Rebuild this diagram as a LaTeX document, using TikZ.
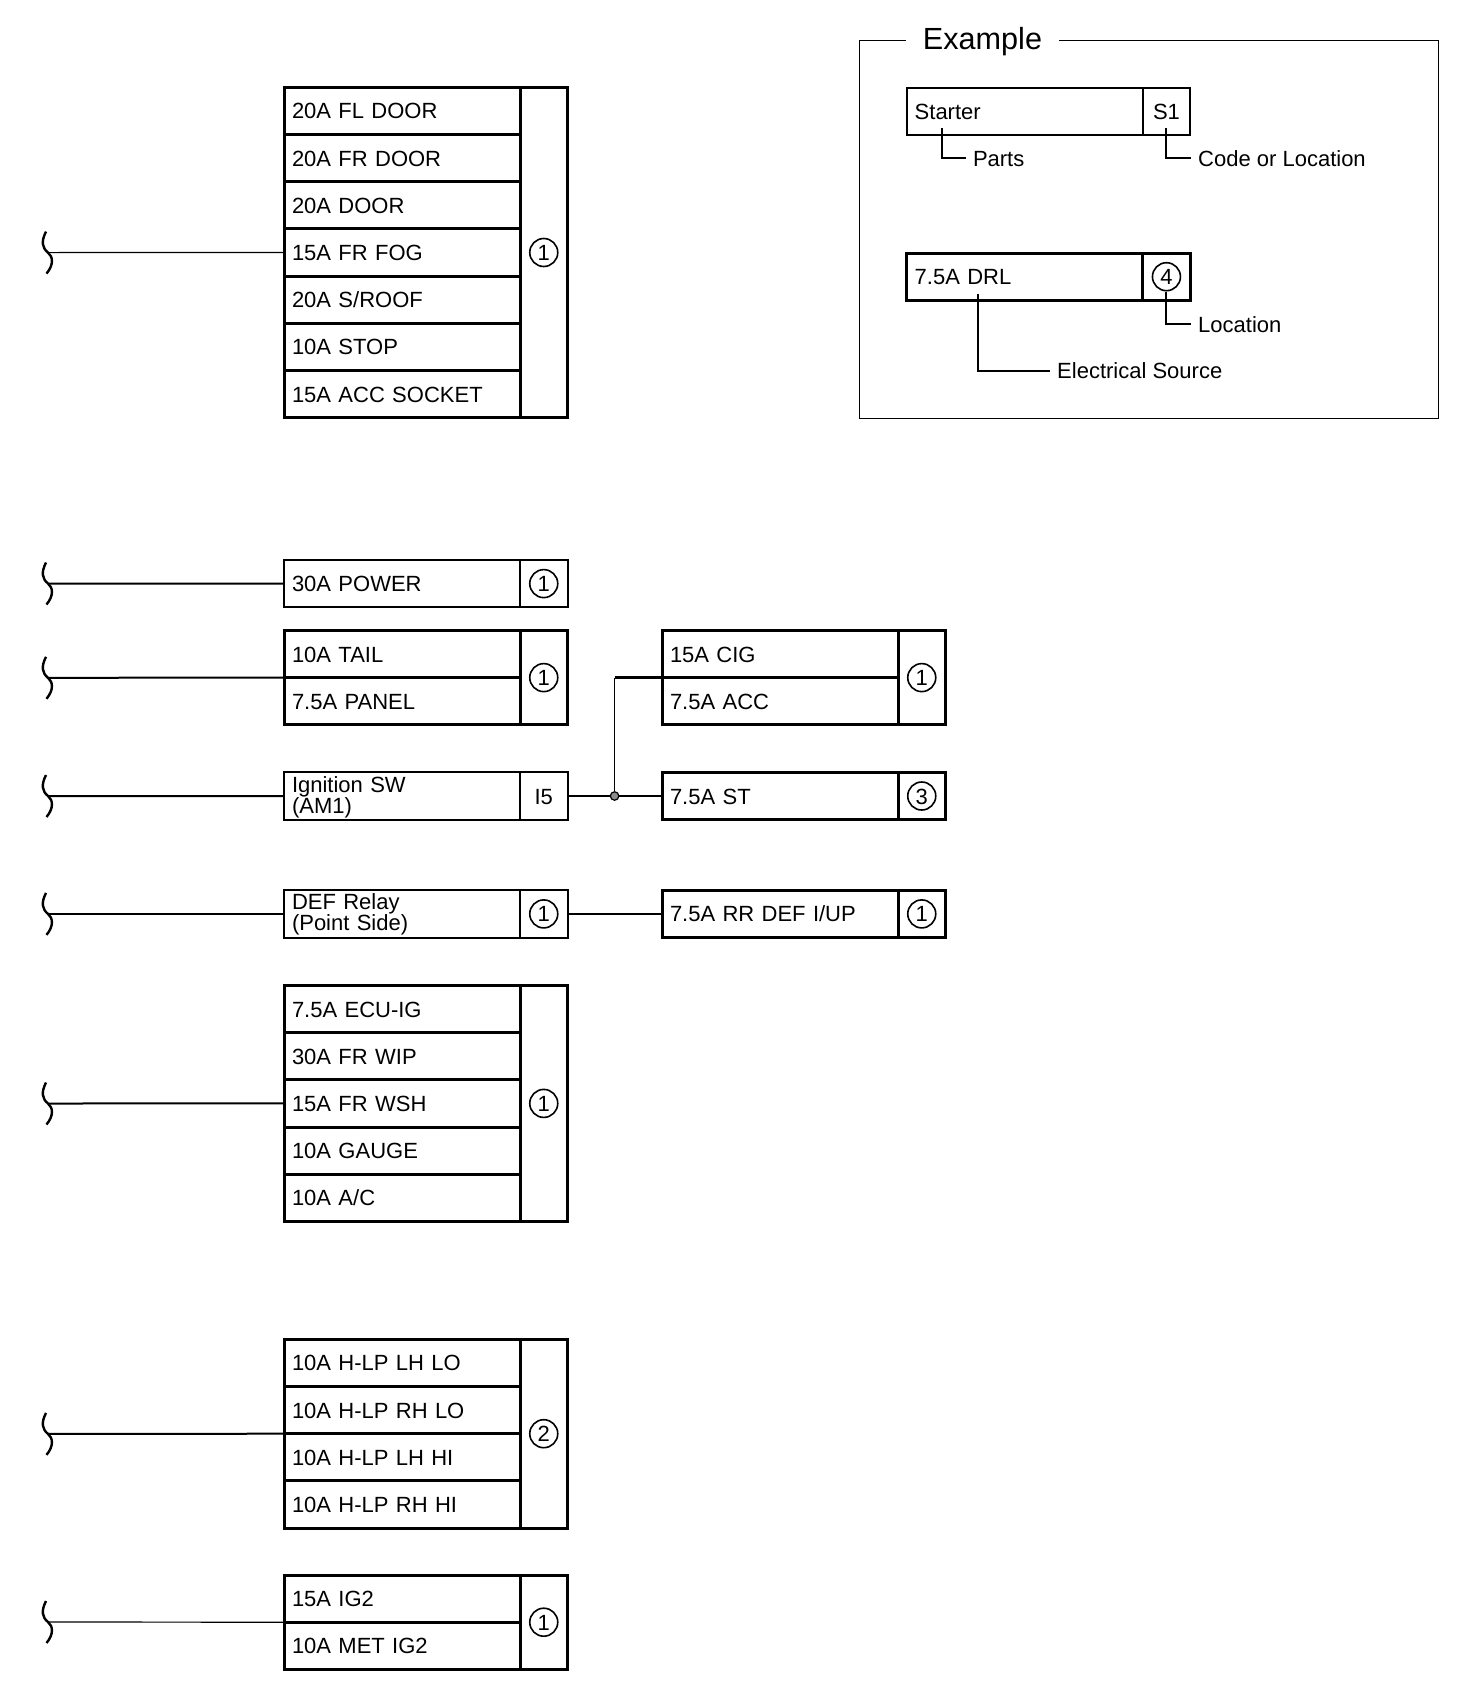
\documentclass[tikz,border=0pt]{standalone}
\usepackage{fontspec}
\setmainfont{Liberation Sans}
\usepackage{tikz}
\usetikzlibrary{positioning}
\tikzset{
 labelfont/.style={font=\fontsize{22}{21}\selectfont},
 fusetext/.style={labelfont,draw,outer sep=0pt,text width=220pt,inner xsep=8pt,inner ysep=0pt,align=left,
   minimum height=47.2pt,text height=16pt,text depth=0pt},
 fuserow/.style={fusetext,line width=3pt,line join=miter},
 plainrow/.style={fusetext,line width=2pt},
 twolines/.style={text height=16pt,text depth=24pt},
 codecell/.style={labelfont,draw,outer sep=0pt,inner sep=0pt,minimum width=47.5pt,minimum height=#1,
   text height=16pt,text depth=0pt,anchor=north west},
 codemark/.style={labelfont,draw,circle,line width=1.6pt,minimum size=28pt,inner sep=0pt,text height=16pt,text depth=0pt},
 wire/.style={line width=2pt},
 thinwire/.style={line width=1.2pt},
 leaderlabel/.style={labelfont,anchor=west,inner xsep=7pt,inner ysep=0pt,text height=16pt,text depth=0pt},
 juncdot/.style={circle,draw,fill=black!45,line width=1.2pt,minimum size=8.5pt,inner sep=0pt},
 wirebreak/.pic={\draw[line width=2.4pt] (-3,-21) .. controls (-8,-11) and (-7,-5) .. (-1,0) .. controls (4,4) and (5,12) .. (-2.5,21);},
}

\begin{document}
\begin{tikzpicture}[x=1pt,y=-1pt]
\useasboundingbox (0,0) rectangle (1472,1700);

% door and fog group
\coordinate (A0) at (49,252.6);
\node[fuserow,anchor=north west] (fl_door) at (284,87.3) {20A FL DOOR};
\node[fuserow,below=0pt of fl_door] (fr_door) {20A FR DOOR};
\node[fuserow,below=0pt of fr_door] (door) {20A DOOR};
\node[fuserow,below=0pt of door] (fr_fog) {15A FR FOG};
\node[fuserow,below=0pt of fr_fog] (s_roof) {20A S/ROOF};
\node[fuserow,below=0pt of s_roof] (stop) {10A STOP};
\node[fuserow,below=0pt of stop] (acc_socket) {15A ACC SOCKET};
\node[codecell=330.4pt,line width=3pt] (A_cell) at (fl_door.north east) {};
\node[codemark] (A_mark) at (A_cell.center) {1};
\pic at (A0) {wirebreak};
\draw[thinwire] (A0) -- (fr_fog.west);

% power
\coordinate (B0) at (49,583.5);
\node[plainrow,anchor=north west] (power) at (284,560) {30A POWER};
\node[codecell=47.2pt,line width=2pt] (B_cell) at (power.north east) {};
\node[codemark] (B_mark) at (B_cell.center) {1};
\pic at (B0) {wirebreak};
\draw[wire] (B0) -- (power.west);

% tail and panel
\coordinate (C0) at (49,677.8);
\node[fuserow,anchor=north west] (tail) at (284,630.4) {10A TAIL};
\node[fuserow,below=0pt of tail] (panel) {7.5A PANEL};
\node[codecell=94.4pt,line width=3pt] (C_cell) at (tail.north east) {};
\node[codemark] (C_mark) at (C_cell.center) {1};
\pic at (C0) {wirebreak};
\draw[wire] (C0) -- (tail.south west);

% cig and acc
\node[fuserow,anchor=north west] (cig) at (662,630.4) {15A CIG};
\node[fuserow,below=0pt of cig] (acc) {7.5A ACC};
\node[codecell=94.4pt,line width=3pt] (D_cell) at (cig.north east) {};
\node[codemark] (D_mark) at (D_cell.center) {1};

% ignition switch
\coordinate (E0) at (49,796);
\node[plainrow,twolines,anchor=north west] (ign_sw) at (284,772.4) {Ignition SW\\(AM1)};
\node[codecell=47.2pt,line width=2pt] (E_cell) at (ign_sw.north east) {I5};
\pic at (E0) {wirebreak};
\draw[wire] (E0) -- (ign_sw.west);

% st
\node[fuserow,anchor=north west] (st) at (662,772.4) {7.5A ST};
\node[codecell=47.2pt,line width=3pt] (F_cell) at (st.north east) {};
\node[codemark] (F_mark) at (F_cell.center) {3};
\draw[wire] (E_cell.east) -- (st.west);
\node[juncdot] (junc) at (614.6,796) {};
\coordinate (junc_up) at (junc |- cig.south west);
\draw[line width=1pt] (junc) -- (junc_up);
\draw[line width=2.4pt] (junc_up) -- (cig.south west);

% def relay
\coordinate (G0) at (49,913.9);
\node[plainrow,twolines,anchor=north west] (def_relay) at (284,890.3) {DEF Relay\\(Point Side)};
\node[codecell=47.2pt,line width=2pt] (G_cell) at (def_relay.north east) {};
\node[codemark] (G_mark) at (G_cell.center) {1};
\pic at (G0) {wirebreak};
\draw[wire] (G0) -- (def_relay.west);

\node[fuserow,anchor=north west] (rr_def) at (662,890.3) {7.5A RR DEF I/UP};
\node[codecell=47.2pt,line width=3pt] (H_cell) at (rr_def.north east) {};
\node[codemark] (H_mark) at (H_cell.center) {1};
\draw[wire] (G_cell.east) -- (rr_def.west);

% ecu group
\coordinate (I0) at (49,1103.5);
\node[fuserow,anchor=north west] (ecu_ig) at (284,985.4) {7.5A ECU-IG};
\node[fuserow,below=0pt of ecu_ig] (fr_wip) {30A FR WIP};
\node[fuserow,below=0pt of fr_wip] (fr_wsh) {15A FR WSH};
\node[fuserow,below=0pt of fr_wsh] (gauge) {10A GAUGE};
\node[fuserow,below=0pt of gauge] (a_c) {10A A/C};
\node[codecell=236pt,line width=3pt] (I_cell) at (ecu_ig.north east) {};
\node[codemark] (I_mark) at (I_cell.center) {1};
\pic at (I0) {wirebreak};
\draw[wire] (I0) -- (fr_wsh.west);

% head lamps
\coordinate (J0) at (49,1433.9);
\node[fuserow,anchor=north west] (lh_lo) at (284,1339.3) {10A H-LP LH LO};
\node[fuserow,below=0pt of lh_lo] (rh_lo) {10A H-LP RH LO};
\node[fuserow,below=0pt of rh_lo] (lh_hi) {10A H-LP LH HI};
\node[fuserow,below=0pt of lh_hi] (rh_hi) {10A H-LP RH HI};
\node[codecell=188.8pt,line width=3pt] (J_cell) at (lh_lo.north east) {};
\node[codemark] (J_mark) at (J_cell.center) {2};
\pic at (J0) {wirebreak};
\draw[wire] (J0) -- (rh_lo.south west);

% ig2
\coordinate (K0) at (49,1622);
\node[fuserow,anchor=north west] (ig2) at (284,1575) {15A IG2};
\node[fuserow,below=0pt of ig2] (met_ig2) {10A MET IG2};
\node[codecell=94.4pt,line width=3pt] (K_cell) at (ig2.north east) {};
\node[codemark] (K_mark) at (K_cell.center) {1};
\pic at (K0) {wirebreak};
\draw[thinwire] (K0) -- (ig2.south west);

% example frame
\node[draw,line width=1.2pt,outer sep=0pt,inner sep=0pt,minimum width=578.9pt,minimum height=377.7pt,anchor=north west] (ex_frame) at (859.5,40.7) {};
\node[fill=white,font=\fontsize{30.6}{30}\selectfont,inner xsep=16.5pt,inner ysep=0pt,text height=22pt,text depth=0pt] (ex_title) at (982.5,38.5) {Example};

\node[plainrow,anchor=north west] (starter) at (906.7,87.8) {Starter};
\node[codecell=47.2pt,line width=2pt] (S1_cell) at (starter.north east) {S1};
\node[leaderlabel] (parts) at (965.8,158.3) {Parts};
\node[leaderlabel] (code_loc) at (1191,158.3) {Code or Location};
\coordinate (starter_tail) at (942,128);
\coordinate (S1_tail) at (1166.3,128);
\draw[wire] (starter_tail) |- (parts.west);
\draw[wire] (S1_tail) |- (code_loc.west);

\node[fuserow,anchor=north west] (drl) at (906.7,253.1) {7.5A DRL};
\node[codecell=47.2pt,line width=3pt] (drl_cell) at (drl.north east) {};
\node[codemark] (drl_mark) at (drl_cell.center) {4};
\node[leaderlabel] (location) at (1191,324) {Location};
\node[leaderlabel] (el_source) at (1050,370.7) {Electrical Source};
\coordinate (drl_tail) at (977.7,294);
\draw[wire] (drl_mark.south) |- (location.west);
\draw[wire] (drl_tail) |- (el_source.west);
\end{tikzpicture}
\end{document}
